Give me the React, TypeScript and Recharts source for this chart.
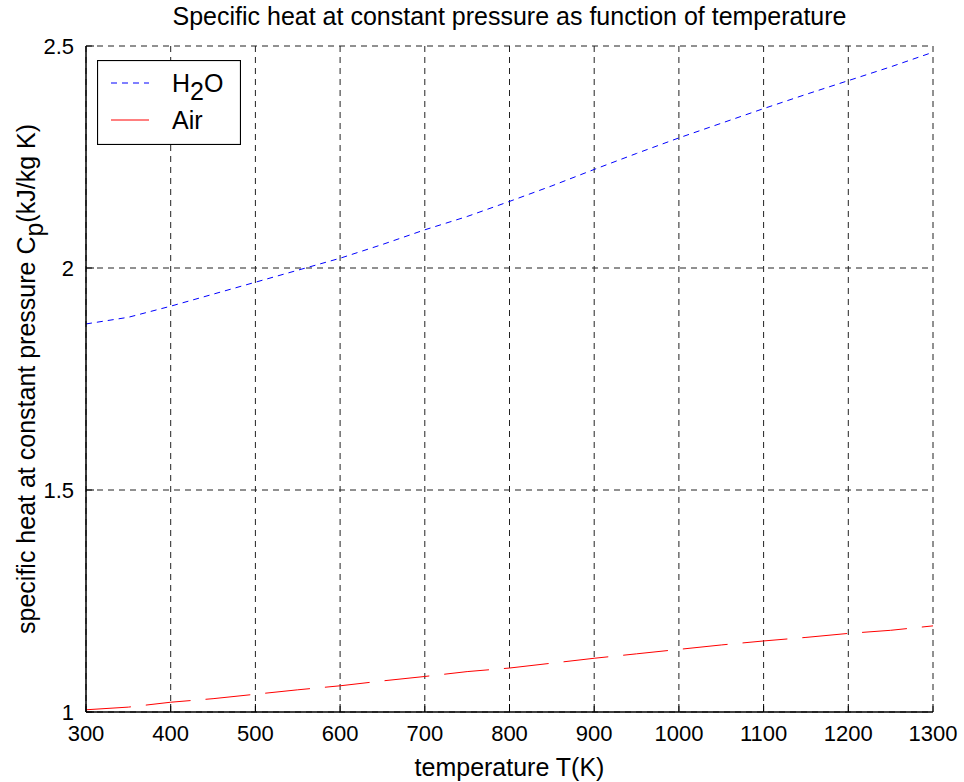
import React from 'react';
import { LineChart, Line, XAxis, YAxis, CartesianGrid, Label } from 'recharts';

const temps = [300, 350, 400, 450, 500, 550, 600, 650, 700, 750, 800, 850, 900, 950, 1000, 1050, 1100, 1150, 1200, 1250, 1300];
const h2oCp = [1.874, 1.889, 1.914, 1.941, 1.968, 1.995, 2.022, 2.053, 2.086, 2.116, 2.150, 2.185, 2.222, 2.258, 2.293, 2.326, 2.359, 2.391, 2.422, 2.453, 2.486];
const airCp = [1.005, 1.011, 1.022, 1.030, 1.040, 1.050, 1.059, 1.070, 1.080, 1.091, 1.099, 1.110, 1.121, 1.131, 1.141, 1.151, 1.160, 1.168, 1.177, 1.184, 1.194];
const xTicks = [300, 400, 500, 600, 700, 800, 900, 1000, 1100, 1200, 1300];
const yTicks = [1, 1.5, 2, 2.5];

const data = temps.map((t, i) => ({ t, h2o: h2oCp[i], air: airCp[i] }));

const FONT = '"Liberation Sans", Arial, Helvetica, sans-serif';

const LegendBox = () => (
  <svg width={144} height={85} style={{ display: 'block' }}>
    <rect x={0.5} y={0.5} width={143} height={84} fill="#fff" stroke="#000" strokeWidth={1.2} />
    <line x1={14} y1={23} x2={52} y2={23} stroke="#0000ff" strokeWidth={1} strokeDasharray="6 5" />
    <text x={75} y={32} fontFamily={FONT} fontSize={25} fill="#000">
      H<tspan dy={8}>2</tspan><tspan dy={-8}>O</tspan>
    </text>
    <line x1={14} y1={60} x2={52} y2={60} stroke="#ff0000" strokeWidth={1} />
    <text x={75} y={69} fontFamily={FONT} fontSize={25} fill="#000">Air</text>
  </svg>
);

const YLabel = (props: any) => {
  const vb = props.viewBox || {};
  const cy = (vb.y ?? 46) + (vb.height ?? 666) / 2;
  const cx = 26;
  return (
    <text
      x={cx}
      y={cy}
      transform={`rotate(-90, ${cx}, ${cy})`}
      textAnchor="middle"
      dominantBaseline="central"
      fontFamily={FONT}
      fontSize={25}
      fill="#000"
    >
      specific heat at constant pressure C<tspan dy={8}>p</tspan><tspan dy={-8}>(kJ/kg K)</tspan>
    </text>
  );
};

export default function App() {
  return (
    <div style={{ position: 'absolute', left: 0, top: 0, width: 964, height: 782, background: '#fff' }}>
      <div
        style={{
          position: 'absolute',
          left: 86,
          width: 847,
          top: 1,
          textAlign: 'center',
          fontFamily: FONT,
          fontSize: 25,
          color: '#000',
          lineHeight: '30px',
        }}
      >
        Specific heat at constant pressure as function of temperature
      </div>
      <LineChart width={964} height={782} data={data} margin={{ top: 46, right: 31, bottom: 40, left: 26 }}>
        <CartesianGrid stroke="#222" strokeDasharray="6 5" strokeWidth={1} />
        <XAxis
          dataKey="t"
          type="number"
          domain={[300, 1300]}
          ticks={xTicks}
          interval={0}
          height={30}
          axisLine={{ stroke: '#000', strokeWidth: 1.5 }}
          tickLine={{ stroke: '#000', strokeWidth: 1 }}
          tickSize={-8}
          tick={{ fill: '#000', fontSize: 22, fontFamily: FONT }}
          tickMargin={21}
        >
          <Label value="temperature T(K)" position="bottom" offset={16} style={{ fill: '#000', fontSize: 25, fontFamily: FONT }} />
        </XAxis>
        <YAxis
          type="number"
          domain={[1, 2.5]}
          ticks={yTicks}
          interval={0}
          width={60}
          axisLine={{ stroke: '#000', strokeWidth: 1.5 }}
          tickLine={{ stroke: '#000', strokeWidth: 1 }}
          tickSize={-8}
          tick={{ fill: '#000', fontSize: 22, fontFamily: FONT }}
          tickMargin={20}
          allowDataOverflow
        >
          <Label content={<YLabel />} />
        </YAxis>
        <Line
          type="linear"
          dataKey="h2o"
          stroke="#0000ff"
          strokeWidth={1}
          strokeDasharray="6 5"
          dot={false}
          isAnimationActive={false}
        />
        <Line
          type="linear"
          dataKey="air"
          stroke="#ff0000"
          strokeWidth={1}
          strokeDasharray="45 15"
          dot={false}
          isAnimationActive={false}
        />
      </LineChart>
      <div style={{ position: 'absolute', left: 97, top: 60 }}>
        <LegendBox />
      </div>
    </div>
  );
}
